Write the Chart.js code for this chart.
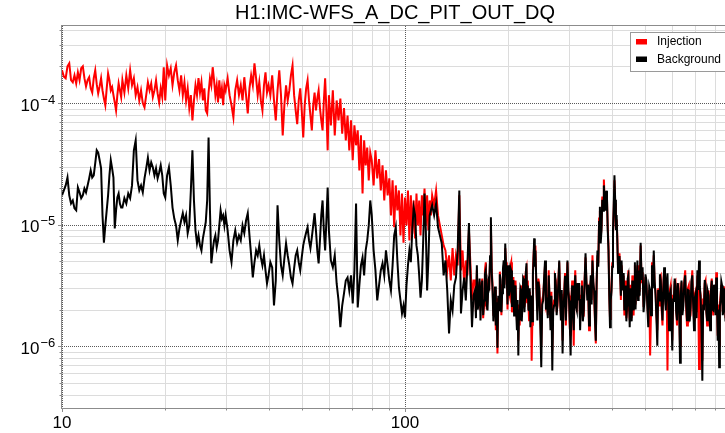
<!DOCTYPE html>
<html><head><meta charset="utf-8">
<script src="https://cdn.jsdelivr.net/npm/chart.js@4.4.0/dist/chart.umd.min.js"></script>
<style>
html,body{margin:0;padding:0;background:#fff;overflow:hidden;width:725px;height:433px;}
#wrap{position:relative;width:790px;height:433px;}
canvas{display:block;}
</style></head><body>
<div id="wrap"><canvas id="c" width="790" height="433"></canvas></div>
<script>
const chartTitle = "H1:IMC-WFS_A_DC_PIT_OUT_DQ";
const seriesNames = ["Injection", "Background"];
const seriesColors = ["#ff0000", "#000000"];
const xTickValues = [10, 100, 1000];
const yTickExponents = [-6, -5, -4];
const minorMultipliers = [2, 3, 4, 5, 6, 7, 8, 9];

const freq = [
 10,10.125,10.25,10.375,10.5,10.625,10.75,10.875,11,11.125,11.25,11.375,11.5,11.625,11.75,11.875,12,12.125,12.25,12.375,
 12.5,12.625,12.75,12.875,13,13.125,13.25,13.375,13.5,13.625,13.75,13.875,14,14.125,14.25,14.375,14.5,14.625,14.75,14.875,
 15,15.2,15.4,15.6,15.8,16,16.2,16.4,16.6,16.8,17,17.2,17.4,17.6,17.8,18,18.2,18.4,18.6,18.8,19,19.2,19.4,19.6,19.8,
 20,20.25,20.5,20.75,21,21.25,21.5,21.75,22,22.25,22.5,22.75,23,23.25,23.5,23.75,24,24.25,24.5,24.75,
 25,25.25,25.5,25.75,26,26.25,26.5,26.75,27,27.25,27.5,27.75,28,28.25,28.5,28.75,29,29.25,29.5,29.75,
 30,30.4,30.8,31.2,31.6,32,32.4,32.8,33.2,33.6,34,34.4,34.8,35.2,35.6,36,36.4,36.8,37.2,37.6,38,38.4,38.8,39.2,39.6,
 40,40.5,41,41.5,42,42.5,43,43.5,44,44.5,45,45.5,46,46.5,47,47.5,48,48.5,49,49.5,
 50,50.5,51,51.5,52,52.5,53,53.5,54,54.5,55,55.5,56,56.5,57,57.5,58,58.5,59,59.5,
 60,60.8,61.6,62.4,63.2,64,64.8,65.6,66.4,67.2,68,68.8,69.6,70.4,71.2,72,72.8,73.6,74.4,75.2,76,76.8,77.6,78.4,79.2,
 80,81,82,83,84,85,86,87,88,89,90,91,92,93,94,95,96,97,98,99,
 100,101,102,103,104,105,106,107,108,109,110,111,112,113,114,115,116,117,118,119,
 120,121.6,123.2,124.8,126.4,128,129.6,131.2,132.8,134.4,136,137.6,139.2,140.8,142.4,144,145.6,147.2,148.8,150.4,152,153.6,155.2,156.8,158.4,
 160,161,162,163,164,165,166,167,168,169,170,171,172,173,174,175,176,177,178,179,
 180,181,182,183,184,185,186,187,188,189,190,191,192,193,194,195,196,197,198,199,
 200,201,202,203,204,205,206,207,208,209,210,211,212,213,214,215,216,217,218,219,
 220,221,222,223,224,225,226,227,228,229,230,231,232,233,234,235,236,237,238,239,
 240,241.6,243.2,244.8,246.4,248,249.6,251.2,252.8,254.4,256,257.6,259.2,260.8,262.4,264,265.6,267.2,268.8,270.4,
 272,273.6,275.2,276.8,278.4,280,281.6,283.2,284.8,286.4,288,289.6,291.2,292.8,294.4,296,297.6,299.2,300.8,302.4,
 304,305.6,307.2,308.8,310.4,312,313.6,315.2,316.8,318.4,
 320,322,324,326,328,330,332,334,336,338,340,342,344,346,348,350,352,354,356,358,
 360,362,364,366,368,370,372,374,376,378,380,382,384,386,388,390,392,394,396,398,
 400,402,404,406,408,410,412,414,416,418,420,422,424,426,428,430,432,434,436,438,
 440,442,444,446,448,450,452,454,456,458,460,462,464,466,468,470,472,474,476,478,
 480,483.2,486.4,489.6,492.8,496,499.2,502.4,505.6,508.8,512,515.2,518.4,521.6,524.8,528,531.2,534.4,537.6,540.8,
 544,547.2,550.4,553.6,556.8,560,563.2,566.4,569.6,572.8,576,579.2,582.4,585.6,588.8,592,595.2,598.4,601.6,604.8,
 608,611.2,614.4,617.6,620.8,624,627.2,630.4,633.6,636.8,
 640,644,648,652,656,660,664,668,672,676,680,684,688,692,696,700,704,708,712,716,
 720,724,728,732,736,740,744,748,752,756,760,764,768,772,776,780,784,788,792,796,
 800,804,808,812,816,820,824,828,832,836,840,844,848,852,856,860,864,868,872,876,
 880,892,904,916,928,940,952,964,976,988,1000
];

const injection = [
 1.86e-4,1.65e-4,1.6e-4,2.0e-4,2.12e-4,1.54e-4,1.48e-4,1.69e-4,1.45e-4,1.79e-4,1.54e-4,1.93e-4,2.0e-4,1.6e-4,1.37e-4,1.54e-4,1.63e-4,1.32e-4,1.22e-4,1.6e-4,
 1.86e-4,1.43e-4,1.2e-4,1.37e-4,1.6e-4,1.27e-4,1.09e-4,9.6e-5,1.32e-4,1.75e-4,1.54e-4,1.27e-4,1.35e-4,1.16e-4,1.01e-4,8.7e-5,1.16e-4,1.45e-4,1.27e-4,1.12e-4,
 1.54e-4,1.22e-4,1.69e-4,1.32e-4,1.86e-4,1.4e-4,1.6e-4,1.16e-4,1.35e-4,1.05e-4,1.27e-4,1.0e-4,9.2e-5,1.16e-4,1.48e-4,1.27e-4,1.45e-4,1.12e-4,1.27e-4,1.54e-4,1.2e-4,1.01e-4,1.32e-4,1.12e-4,1.97e-4,
 1.05e-4,2.04e-4,1.69e-4,1.93e-4,1.4e-4,1.79e-4,2.04e-4,1.54e-4,1.27e-4,1.69e-4,1.16e-4,1.48e-4,1.05e-4,1.32e-4,9.1e-5,1.16e-4,7.2e-5,1.05e-4,1.4e-4,1.16e-4,
 1.6e-4,1.22e-4,1.48e-4,1.05e-4,1.32e-4,8.7e-5,8.2e-5,1.22e-4,1.6e-4,1.4e-4,1.97e-4,1.54e-4,1.16e-4,1.4e-4,1.01e-4,1.54e-4,1.09e-4,1.32e-4,9.6e-5,1.4e-4,
 1.27e-4,1.6e-4,1.16e-4,9.6e-5,7.6e-5,1.27e-4,1.54e-4,1.16e-4,1.4e-4,1.05e-4,1.63e-4,1.16e-4,8.2e-5,1.32e-4,1.69e-4,1.4e-4,2.12e-4,1.6e-4,1.16e-4,1.48e-4,1.05e-4,8.7e-5,1.4e-4,1.79e-4,1.22e-4,
 1.4e-4,1.16e-4,1.69e-4,1.05e-4,7.2e-5,1.27e-4,1.86e-4,1.16e-4,5.42e-5,9.6e-5,1.4e-4,1.05e-4,1.27e-4,1.69e-4,2.04e-4,1.16e-4,8.7e-5,6.7e-5,1.05e-4,1.32e-4,
 8.7e-5,5.2e-5,9.6e-5,1.32e-4,1.54e-4,1.05e-4,7.9e-5,5.96e-5,9.6e-5,1.22e-4,8.7e-5,1.09e-4,1.27e-4,9.1e-5,7.2e-5,5.96e-5,1.05e-4,1.6e-4,8.7e-5,4.08e-5,
 1.16e-4,6.55e-5,1.27e-4,5.42e-5,1.05e-4,7.2e-5,1.09e-4,5.6e-5,9.1e-5,4.93e-5,7.9e-5,4.08e-5,7.2e-5,3.38e-5,6.55e-5,4.49e-5,5.96e-5,2.79e-5,5.42e-5,1.8e-5,4.93e-5,3.07e-5,4.3e-5,2.31e-5,3.9e-5,
 3.38e-5,2.1e-5,4.08e-5,2.4e-5,3.46e-5,1.91e-5,3.07e-5,1.58e-5,2.79e-5,1.74e-5,2.4e-5,1.19e-5,2.31e-5,9.5e-6,2.1e-5,1.31e-5,1.91e-5,8.15e-6,1.8e-5,7.1e-6,
 1.67e-5,9.85e-6,1.91e-5,7.41e-6,1.74e-5,8.4e-6,1.58e-5,7.7e-6,1.8e-5,9.85e-6,1.58e-5,8.15e-6,1.74e-5,1.19e-5,1.98e-5,9.85e-6,1.74e-5,8.96e-6,1.58e-5,1.19e-5,
 1.74e-5,1.44e-5,1.91e-5,1.19e-5,9.85e-6,8.15e-6,6.74e-6,6.13e-6,4.2e-6,5.58e-6,3.47e-6,6.4e-6,3.82e-6,5.58e-6,4.62e-6,1.74e-5,4.2e-6,6.13e-6,3.16e-6,5.07e-6,3.82e-6,8.96e-6,4.62e-6,2.38e-6,3.47e-6,
 3.47e-6,1.9e-6,4.2e-6,2.2e-6,2.87e-6,3.4e-6,1.97e-6,3.1e-6,3.6e-6,1.7e-6,2.16e-6,4.2e-6,4.9e-6,2.0e-6,2.38e-6,3.6e-6,2.87e-6,5.0e-6,9.85e-6,4.3e-6,
 3.16e-6,1.8e-6,1.79e-6,2.9e-6,1.35e-6,2.5e-6,8.7e-7,2.4e-6,2.38e-6,4.1e-6,3.16e-6,1.8e-6,3.16e-6,4.0e-6,4.62e-6,3.2e-6,6.4e-6,4.9e-6,4.2e-6,2.0e-6,
 4.37e-6,2.8e-6,2.61e-6,4.6e-6,4.9e-6,1.9e-6,2.16e-6,3.7e-6,1.97e-6,2.6e-6,3.47e-6,2.1e-6,1.63e-6,2.2e-6,1.11e-6,2.2e-6,1.48e-6,2.8e-6,3.16e-6,1.8e-6,
 2.38e-6,3.4e-6,3.82e-6,2.1e-6,2.38e-6,4.1e-6,4.37e-6,2.3e-6,3.47e-6,2.2e-6,1.63e-6,2.8e-6,2.16e-6,2.4e-6,7.6e-7,1.5e-6,4.2e-6,5.5e-6,6.74e-6,4.8e-6,
 6.74e-6,3.0e-6,1.97e-6,3.6e-6,3.16e-6,1.7e-6,1.01e-6,2.4e-6,2.61e-6,3.4e-6,4.62e-6,2.2e-6,2.38e-6,1.8e-6,4.2e-6,2.2e-6,1.63e-6,2.8e-6,9.2e-7,2.1e-6,
 2.38e-6,3.7e-6,3.47e-6,1.9e-6,2.16e-6,3.5e-6,4.9e-6,2.7e-6,1.79e-6,2.7e-6,1.11e-6,2.2e-6,2.87e-6,4.0e-6,1.48e-6,2.8e-6,4.9e-6,2.8e-6,2.61e-6,1.4e-6,
 1.22e-6,2.5e-6,3.47e-6,2.0e-6,1.01e-6,2.9e-6,4.2e-6,2.3e-6,2.16e-6,3.1e-6,
 2.61e-6,3.1e-6,1.63e-6,2.6e-6,3.47e-6,1.8e-6,1.79e-6,3.6e-6,5.37e-6,3.3e-6,2.87e-6,3.0e-6,1.35e-6,2.8e-6,3.47e-6,2.4e-6,5.58e-6,3.2e-6,2.61e-6,1.6e-6,
 1.05e-6,3.4e-6,5.58e-6,4.8e-6,1.12e-5,1.3e-5,7.7e-6,9.5e-6,1.7e-5,1.4e-5,2.35e-5,1.6e-5,1.4e-5,1.8e-5,1.6e-5,9.5e-6,6.74e-6,2.8e-6,1.67e-6,2.2e-6,
 3.16e-6,4.8e-6,8.15e-6,1.3e-5,2.31e-5,1.5e-5,9.5e-6,1.1e-5,7.7e-6,4.3e-6,4.2e-6,5.8e-6,4.05e-6,2.4e-6,4.62e-6,3.6e-6,3.16e-6,3.8e-6,1.79e-6,3.1e-6,
 3.47e-6,1.7e-6,1.97e-6,3.4e-6,4.2e-6,2.2e-6,1.63e-6,3.2e-6,2.16e-6,1.7e-6,3.82e-6,2.3e-6,1.79e-6,3.5e-6,4.62e-6,2.2e-6,3.16e-6,3.4e-6,4.62e-6,2.6e-6,
 4.62e-6,2.8e-6,6.74e-6,3.3e-6,4.05e-6,2.1e-6,2.61e-6,3.7e-6,3.16e-6,2.3e-6,1.63e-6,2.9e-6,8.4e-7,2.0e-6,4.9e-6,3.2e-6,5.58e-6,3.1e-6,2.87e-6,1.8e-6,
 1.35e-6,3.0e-6,2.16e-6,3.7e-6,3.82e-6,2.0e-6,1.48e-6,3.2e-6,4.2e-6,2.7e-6,2.16e-6,3.2e-6,6.3e-7,2.4e-6,1.63e-6,2.9e-6,3.16e-6,1.8e-6,1.11e-6,2.6e-6,
 2.61e-6,3.4e-6,3.47e-6,2.0e-6,1.48e-6,3.1e-6,3.16e-6,1.9e-6,1.01e-6,2.8e-6,
 3.35e-6,2.0e-6,2.38e-6,3.5e-6,4.2e-6,2.1e-6,1.48e-6,3.0e-6,3.16e-6,1.7e-6,1.79e-6,3.2e-6,4.2e-6,2.4e-6,1.63e-6,2.7e-6,2.87e-6,1.9e-6,3.82e-6,2.7e-6,
 6.5e-7,2.9e-6,2.61e-6,1.6e-6,7.6e-7,2.4e-6,2.38e-6,3.3e-6,3.47e-6,2.0e-6,1.48e-6,2.6e-6,2.87e-6,1.8e-6,1.63e-6,3.1e-6,3.6e-6,2.2e-6,1.79e-6,3.0e-6,
 3.16e-6,2.0e-6,4.05e-6,2.5e-6,1.22e-6,2.2e-6,1.01e-6,2.3e-6,2.61e-6,3.2e-6,2.87e-6,1.9e-6,2.16e-6,3.1e-6,2.61e-6,1.7e-6,3.16e-6,2.5e-6,1.79e-6,2.7e-6,
 2.78e-6,1.79e-6,4.05e-6,1.22e-6,2.95e-6,1.57e-6,3.58e-6,1.48e-6,2.30e-6,2.16e-6,2.78e-6
];

const background = [
 1.74e-5,1.91e-5,2.1e-5,2.44e-5,1.74e-5,1.49e-5,1.58e-5,1.36e-5,1.31e-5,2.02e-5,1.84e-5,1.65e-5,1.74e-5,1.98e-5,1.84e-5,2.1e-5,2.4e-5,2.79e-5,2.44e-5,2.54e-5,
 3.2e-5,4.08e-5,3.9e-5,3.38e-5,2.9e-5,1.19e-5,7.1e-6,9.85e-6,1.31e-5,1.74e-5,2.54e-5,3.38e-5,2.9e-5,2.44e-5,9.3e-6,1.31e-5,1.67e-5,1.8e-5,1.49e-5,1.38e-5,
 1.38e-5,1.65e-5,1.49e-5,1.8e-5,1.65e-5,2.1e-5,4.08e-5,4.93e-5,2.31e-5,1.91e-5,2.1e-5,1.84e-5,2.4e-5,2.9e-5,3.55e-5,2.79e-5,3.25e-5,2.96e-5,2.54e-5,2.9e-5,2.4e-5,2.68e-5,3.07e-5,2.54e-5,1.8e-5,
 1.67e-5,2.54e-5,2.96e-5,2.1e-5,1.38e-5,1.12e-5,9.85e-6,7.41e-6,9.3e-6,1.08e-5,1.24e-5,1.05e-5,1.19e-5,8.5e-6,9.85e-6,1.91e-5,4.08e-5,1.58e-5,8.96e-6,7.0e-6,
 8.15e-6,6.74e-6,6.13e-6,7.7e-6,8.96e-6,1.05e-5,1.58e-5,5.2e-5,1.31e-5,4.8e-6,6.13e-6,7.41e-6,8.15e-6,6.5e-6,7.41e-6,9.85e-6,1.31e-5,1.12e-5,1.19e-5,9.85e-6,
 1.19e-5,8.96e-6,6.13e-6,4.9e-6,7.41e-6,8.96e-6,7.1e-6,8.15e-6,7.41e-6,9.85e-6,8.5e-6,1.08e-5,1.24e-5,8.15e-6,5.58e-6,3.67e-6,4.9e-6,6.13e-6,5.58e-6,6.74e-6,5.37e-6,4.62e-6,5.58e-6,4.2e-6,3.28e-6,
 3.82e-6,4.9e-6,4.45e-6,2.16e-6,3.47e-6,1.44e-5,7.41e-6,4.62e-6,3.82e-6,5.27e-6,7.0e-6,5.58e-6,4.62e-6,3.67e-6,3.28e-6,4.37e-6,5.58e-6,6.13e-6,4.9e-6,4.2e-6,
 5.37e-6,6.74e-6,7.7e-6,8.6e-6,9.5e-6,7.41e-6,6.4e-6,7.85e-6,9.85e-6,1.24e-5,8.96e-6,6.13e-6,4.8e-6,7.41e-6,1.19e-5,1.58e-5,8.96e-6,6.13e-6,1.08e-5,2.02e-5,
 8.96e-6,5.07e-6,4.45e-6,5.58e-6,3.28e-6,2.38e-6,1.43e-6,2.16e-6,2.72e-6,3.47e-6,3.67e-6,2.87e-6,3.82e-6,2.25e-6,4.2e-6,1.49e-5,2.08e-6,3.16e-6,4.62e-6,5.37e-6,3.82e-6,6.13e-6,7.41e-6,9.85e-6,1.58e-5,
 1.19e-5,6.13e-6,4.2e-6,2.38e-6,3.16e-6,4.2e-6,4.8e-6,3.82e-6,6.13e-6,4.62e-6,3.47e-6,2.87e-6,4.62e-6,8.15e-6,9.5e-6,5.07e-6,3.04e-6,2.38e-6,1.86e-6,2.16e-6,
 1.72e-6,3.16e-6,4.62e-6,6.13e-6,4.9e-6,8.96e-6,1.38e-5,1.19e-5,6.74e-6,5.58e-6,3.82e-6,2.51e-6,3.47e-6,7.41e-6,1.8e-5,8.96e-6,2.87e-6,5.07e-6,1.19e-5,1.31e-5,
 1.44e-5,1.19e-5,1.49e-5,9.5e-6,8.15e-6,7.0e-6,3.82e-6,5.07e-6,2.87e-6,1.27e-6,2.38e-6,1.97e-6,3.16e-6,3.67e-6,6.13e-6,1.91e-5,1.86e-6,2.87e-6,3.67e-6,2.38e-6,4.62e-6,1.03e-5,3.47e-6,1.43e-6,2.61e-6,
 2.87e-6,1.7e-6,4.62e-6,2.0e-6,2.38e-6,3.6e-6,1.63e-6,2.9e-6,3.47e-6,1.8e-6,2.38e-6,3.9e-6,4.2e-6,2.2e-6,1.97e-6,3.4e-6,3.16e-6,5.5e-6,1.15e-5,4.0e-6,
 2.87e-6,1.6e-6,2.16e-6,3.1e-6,1.48e-6,2.3e-6,9.7e-7,2.6e-6,1.97e-6,3.9e-6,3.47e-6,1.9e-6,2.72e-6,4.3e-6,5.07e-6,3.0e-6,7.0e-6,4.6e-6,3.82e-6,2.2e-6,
 4.62e-6,2.6e-6,2.87e-6,4.4e-6,4.2e-6,2.1e-6,2.38e-6,3.5e-6,1.79e-6,2.8e-6,3.16e-6,1.9e-6,1.35e-6,2.4e-6,8.4e-7,2.0e-6,1.63e-6,3.0e-6,2.87e-6,1.6e-6,
 2.16e-6,3.6e-6,3.47e-6,1.9e-6,2.61e-6,3.9e-6,4.8e-6,2.5e-6,3.16e-6,2.0e-6,1.97e-6,3.0e-6,1.43e-6,2.2e-6,2.61e-6,1.6e-6,3.82e-6,5.2e-6,7.7e-6,4.5e-6,
 6.13e-6,3.2e-6,1.63e-6,3.4e-6,2.87e-6,1.5e-6,6.7e-7,2.2e-6,2.38e-6,3.6e-6,5.07e-6,2.0e-6,2.51e-6,1.7e-6,3.82e-6,2.4e-6,1.35e-6,2.6e-6,6.3e-7,1.9e-6,
 2.16e-6,4.0e-6,3.16e-6,1.8e-6,2.38e-6,3.3e-6,5.07e-6,2.5e-6,1.63e-6,2.9e-6,8.7e-7,2.0e-6,2.61e-6,3.8e-6,1.63e-6,2.7e-6,5.07e-6,3.0e-6,2.38e-6,1.5e-6,
 8.4e-7,2.3e-6,3.16e-6,1.9e-6,1.35e-6,2.8e-6,3.82e-6,2.1e-6,1.97e-6,3.3e-6,
 2.38e-6,3.3e-6,1.35e-6,2.4e-6,3.16e-6,1.6e-6,1.97e-6,3.4e-6,5.8e-6,3.5e-6,2.38e-6,3.2e-6,1.48e-6,2.6e-6,3.82e-6,2.2e-6,5.07e-6,3.4e-6,2.87e-6,1.7e-6,
 1.11e-6,3.2e-6,6.13e-6,4.5e-6,1.05e-5,1.4e-5,7.0e-6,9.0e-6,1.6e-5,1.3e-5,2.1e-5,1.5e-5,1.3e-5,1.9e-5,1.7e-5,9.0e-6,6.13e-6,2.6e-6,1.43e-6,2.4e-6,
 2.87e-6,4.5e-6,8.96e-6,1.4e-5,2.54e-5,1.6e-5,9.0e-6,1.2e-5,7.0e-6,4.0e-6,4.62e-6,5.5e-6,3.67e-6,2.6e-6,5.07e-6,3.4e-6,2.87e-6,4.0e-6,1.97e-6,2.9e-6,
 3.16e-6,1.6e-6,2.16e-6,3.6e-6,3.82e-6,2.4e-6,1.43e-6,3.0e-6,2.38e-6,1.6e-6,3.47e-6,2.5e-6,1.97e-6,3.3e-6,4.9e-6,2.0e-6,2.87e-6,3.6e-6,5.07e-6,2.4e-6,
 4.2e-6,2.6e-6,7.1e-6,3.5e-6,4.45e-6,1.9e-6,2.38e-6,3.9e-6,3.47e-6,2.1e-6,1.43e-6,3.1e-6,2.87e-6,1.8e-6,4.62e-6,3.0e-6,6.13e-6,3.4e-6,2.61e-6,1.7e-6,
 1.01e-6,2.9e-6,2.38e-6,3.9e-6,3.47e-6,2.2e-6,1.63e-6,3.0e-6,4.45e-6,2.5e-6,1.97e-6,3.4e-6,3.97e-6,2.2e-6,1.35e-6,2.7e-6,2.87e-6,1.7e-6,9.2e-7,2.4e-6,
 2.38e-6,3.6e-6,3.16e-6,1.9e-6,1.63e-6,3.3e-6,2.87e-6,1.8e-6,7.3e-7,2.6e-6,
 3.47e-6,1.8e-6,2.16e-6,3.3e-6,3.82e-6,2.3e-6,1.63e-6,2.9e-6,2.87e-6,1.6e-6,2.08e-6,3.4e-6,3.82e-6,2.2e-6,1.35e-6,2.5e-6,2.72e-6,1.7e-6,4.2e-6,2.9e-6,
 5.07e-6,3.1e-6,2.38e-6,1.4e-6,5.2e-7,2.2e-6,1.97e-6,3.5e-6,3.16e-6,1.9e-6,1.63e-6,2.8e-6,2.61e-6,1.7e-6,1.35e-6,2.9e-6,3.47e-6,2.0e-6,1.97e-6,3.2e-6,
 2.87e-6,1.8e-6,3.67e-6,2.3e-6,1.11e-6,2.0e-6,6.7e-7,2.1e-6,2.38e-6,3.4e-6,3.16e-6,1.8e-6,1.97e-6,3.0e-6,2.38e-6,1.6e-6,3.47e-6,2.4e-6,1.63e-6,2.8e-6,
 2.87e-6,1.63e-6,4.2e-6,1.11e-6,2.87e-6,1.63e-6,3.47e-6,1.35e-6,2.38e-6,1.97e-6,2.87e-6
];

const FONT = '"Liberation Sans", Arial, Helvetica, sans-serif';

const decorPlugin = {
  id: 'decor',
  beforeDatasetsDraw(chart) {
    const {ctx, chartArea: a, scales} = chart;
    const x = scales.x, y = scales.y;
    ctx.save();
    ctx.beginPath();
    ctx.rect(a.left, a.top, a.right - a.left, a.bottom - a.top);
    ctx.clip();
    ctx.strokeStyle = '#dcdcdc';
    ctx.lineWidth = 1;
    ctx.beginPath();
    for (let i = 0; i < xTickValues.length - 1; i++) {
      for (const m of minorMultipliers) {
        const px = Math.round(x.getPixelForValue(m * xTickValues[i])) + 0.5;
        ctx.moveTo(px, a.top); ctx.lineTo(px, a.bottom);
      }
    }
    for (let e = yTickExponents[0] - 1; e <= yTickExponents[yTickExponents.length - 1]; e++) {
      for (const m of minorMultipliers) {
        const v = m * Math.pow(10, e);
        if (v < y.min || v > y.max) continue;
        const py = Math.round(y.getPixelForValue(v)) + 0.5;
        ctx.moveTo(a.left, py); ctx.lineTo(a.right, py);
      }
    }
    ctx.stroke();
    ctx.strokeStyle = '#5a5a5a';
    ctx.setLineDash([1, 1]);
    ctx.beginPath();
    for (const t of xTickValues) {
      const px = Math.round(x.getPixelForValue(t)) + 0.5;
      ctx.moveTo(px, a.top); ctx.lineTo(px, a.bottom);
    }
    for (const e of yTickExponents) {
      const py = Math.round(y.getPixelForValue(Math.pow(10, e))) + 0.5;
      ctx.moveTo(a.left, py); ctx.lineTo(a.right, py);
    }
    ctx.stroke();
    ctx.restore();
  },
  afterDraw(chart) {
    const {ctx, chartArea: a, scales} = chart;
    const x = scales.x, y = scales.y;
    ctx.save();
    ctx.strokeStyle = '#8c8c8c';
    ctx.lineWidth = 1;
    ctx.strokeRect(Math.round(a.left) - 0.5, Math.round(a.top) - 0.5, Math.round(a.right - a.left) + 1, Math.round(a.bottom - a.top) + 1);
    ctx.beginPath();
    for (let i = 0; i < xTickValues.length; i++) {
      const vals = [xTickValues[i]];
      if (i < xTickValues.length - 1) for (const m of minorMultipliers) vals.push(m * xTickValues[i]);
      vals.forEach((v, k) => {
        const px = Math.round(x.getPixelForValue(v)) + 0.5;
        const len = k === 0 ? 4 : 2.5;
        ctx.moveTo(px, a.bottom); ctx.lineTo(px, a.bottom + len);
      });
    }
    for (let e = yTickExponents[0] - 1; e <= yTickExponents[yTickExponents.length - 1]; e++) {
      for (const m of [1].concat(minorMultipliers)) {
        const v = m * Math.pow(10, e);
        if (v < y.min || v > y.max) continue;
        const py = Math.round(y.getPixelForValue(v)) + 0.5;
        const len = m === 1 ? 4 : 2.5;
        ctx.moveTo(a.left, py); ctx.lineTo(a.left - len, py);
      }
    }
    ctx.stroke();
    ctx.fillStyle = '#000';
    for (const e of yTickExponents) {
      const py = y.getPixelForValue(Math.pow(10, e));
      ctx.font = '17px ' + FONT;
      ctx.textAlign = 'right';
      ctx.textBaseline = 'alphabetic';
      ctx.fillText('10', 39.5, py + 7.5);
      ctx.font = '13px ' + FONT;
      ctx.textAlign = 'left';
      ctx.fillText('\u2212' + Math.abs(e), 40.5, py + 0.5);
    }
    ctx.font = '17px ' + FONT;
    ctx.textAlign = 'center';
    ctx.textBaseline = 'alphabetic';
    for (const t of xTickValues) {
      ctx.fillText(String(t), x.getPixelForValue(t), 428);
    }
    const lx = 630.5, ly = 32.5, lw = 98, lh = 39;
    ctx.fillStyle = '#ffffff';
    ctx.fillRect(lx, ly, lw, lh);
    ctx.strokeStyle = '#9a9a9a';
    ctx.strokeRect(lx, ly, lw, lh);
    ctx.font = '12px ' + FONT;
    ctx.textAlign = 'left';
    ctx.textBaseline = 'middle';
    chart.data.datasets.forEach((ds, i) => {
      const cy = 42 + i * 17.5;
      ctx.fillStyle = ds.borderColor;
      ctx.fillRect(636, cy - 3, 11, 5.5);
      ctx.fillStyle = '#000';
      ctx.fillText(ds.label, 657, cy);
    });
    ctx.restore();
  }
};

const toPoints = (vals) => freq.map((f, i) => ({x: f, y: vals[i]}));

new Chart(document.getElementById('c'), {
  type: 'line',
  data: {
    datasets: [
      {label: seriesNames[0], data: toPoints(injection), borderColor: seriesColors[0], backgroundColor: seriesColors[0],
       borderWidth: 2, pointRadius: 0, tension: 0, fill: false, order: 1, xAxisID: 'x', yAxisID: 'y'},
      {label: seriesNames[1], data: toPoints(background), borderColor: seriesColors[1], backgroundColor: seriesColors[1],
       borderWidth: 2, pointRadius: 0, tension: 0, fill: false, order: 0, xAxisID: 'x', yAxisID: 'y'}
    ]
  },
  options: {
    responsive: false,
    animation: false,
    events: [],
    layout: {padding: 0},
    plugins: {
      legend: {display: false},
      tooltip: {enabled: false},
      title: {display: true, text: chartTitle, color: '#000',
              font: {family: FONT, size: 20, weight: 'normal'}, padding: {top: 1, bottom: 1}}
    },
    scales: {
      x: {type: 'logarithmic', position: 'bottom', min: 10, max: 1000,
          ticks: {display: false}, grid: {display: false}, border: {display: false},
          afterFit(s) { s.height = 25; }},
      y: {type: 'logarithmic', position: 'left', min: 3.1e-7, max: 4.3e-4,
          ticks: {display: false}, grid: {display: false}, border: {display: false},
          afterFit(s) { s.width = 62; }},
      yR: {type: 'linear', position: 'right', display: true,
          ticks: {display: false}, grid: {display: false}, border: {display: false},
          afterFit(s) { s.width = 42; }}
    }
  },
  plugins: [decorPlugin]
});
</script>
</body></html>
